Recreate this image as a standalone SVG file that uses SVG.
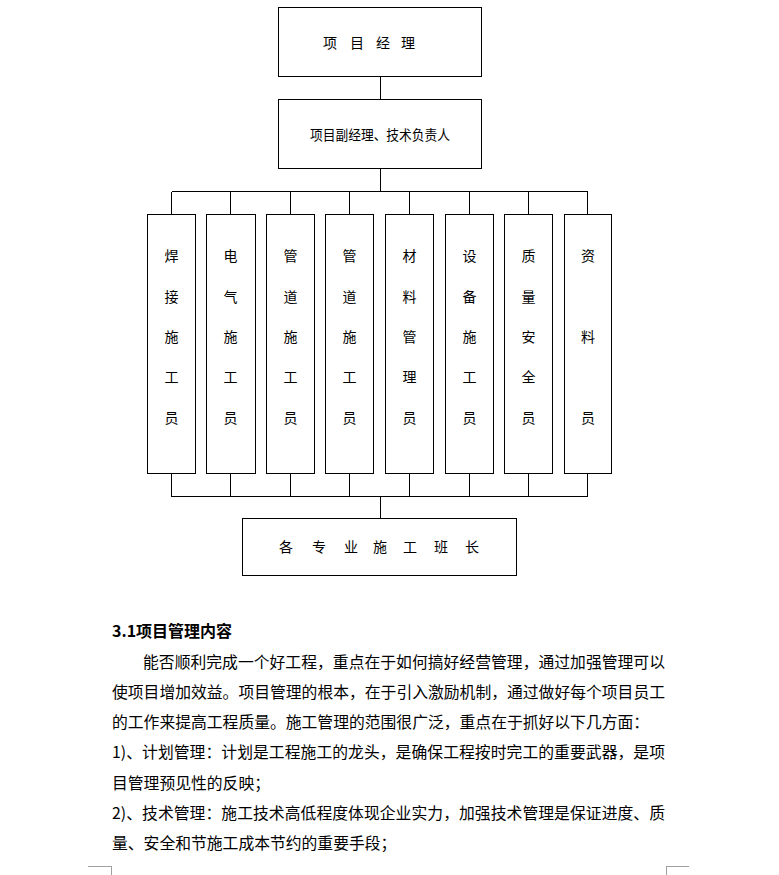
<svg xmlns="http://www.w3.org/2000/svg" width="779" height="875" viewBox="0 0 779 875">
<style>
.box{fill:#fff;stroke:#000;stroke-width:1;shape-rendering:crispEdges}
.ln{fill:none;stroke:#000;stroke-width:1;shape-rendering:crispEdges}
.cm{fill:none;stroke:#a0a0a0;stroke-width:1;shape-rendering:crispEdges}
.t{font-family:"Noto Sans CJK SC","Noto Sans",sans-serif;font-size:14px;fill:#000;text-anchor:middle}
.p{font-family:"Noto Sans CJK SC","Noto Sans",sans-serif;font-size:15.8px;fill:#000}
.h{font-family:"Noto Sans CJK SC","Noto Sans",sans-serif;font-size:16px;font-weight:bold;fill:#000}
</style>
<rect width="779" height="875" fill="#fff"/>
<g id="connectors">
<path class="ln" d="M380.5 76.5V99.5M380.5 168.5V191.5M171.5 191.5H587.5M171.5 191.5V214.5M230.5 191.5V214.5M290.5 191.5V214.5M349.5 191.5V214.5M409.5 191.5V214.5M469.5 191.5V214.5M528.5 191.5V214.5M587.5 191.5V214.5"/>
<path class="ln" d="M171.5 473.5V496.5M230.5 473.5V496.5M290.5 473.5V496.5M349.5 473.5V496.5M409.5 473.5V496.5M469.5 473.5V496.5M528.5 473.5V496.5M587.5 473.5V496.5M171.5 496.5H587.5M380.5 496.5V518.5"/>
</g>
<g id="n-pm">
<rect class="box" x="278.5" y="7.5" width="203" height="69"/>
<text class="t" y="48"><tspan x="330">项</tspan><tspan x="357">目</tspan><tspan x="383">经</tspan><tspan x="408">理</tspan></text>
</g>
<g id="n-deputy">
<rect class="box" x="278.5" y="99.5" width="203" height="69"/>
<text class="t" x="380" y="140" font-size="13" textLength="140" lengthAdjust="spacingAndGlyphs">项目副经理、技术负责人</text>
</g>
<g id="n-c1">
<rect class="box" x="147.5" y="214.5" width="48" height="259"/>
<text class="t"><tspan x="171.5" y="261">焊</tspan><tspan x="171.5" y="302">接</tspan><tspan x="171.5" y="342">施</tspan><tspan x="171.5" y="382">工</tspan><tspan x="171.5" y="423">员</tspan></text>
</g>
<g id="n-c2">
<rect class="box" x="206.5" y="214.5" width="49" height="259"/>
<text class="t"><tspan x="230.5" y="261">电</tspan><tspan x="230.5" y="302">气</tspan><tspan x="230.5" y="342">施</tspan><tspan x="230.5" y="382">工</tspan><tspan x="230.5" y="423">员</tspan></text>
</g>
<g id="n-c3">
<rect class="box" x="266.5" y="214.5" width="48" height="259"/>
<text class="t"><tspan x="290.5" y="261">管</tspan><tspan x="290.5" y="302">道</tspan><tspan x="290.5" y="342">施</tspan><tspan x="290.5" y="382">工</tspan><tspan x="290.5" y="423">员</tspan></text>
</g>
<g id="n-c4">
<rect class="box" x="325.5" y="214.5" width="48" height="259"/>
<text class="t"><tspan x="349.5" y="261">管</tspan><tspan x="349.5" y="302">道</tspan><tspan x="349.5" y="342">施</tspan><tspan x="349.5" y="382">工</tspan><tspan x="349.5" y="423">员</tspan></text>
</g>
<g id="n-c5">
<rect class="box" x="385.5" y="214.5" width="48" height="259"/>
<text class="t"><tspan x="409.5" y="261">材</tspan><tspan x="409.5" y="302">料</tspan><tspan x="409.5" y="342">管</tspan><tspan x="409.5" y="382">理</tspan><tspan x="409.5" y="423">员</tspan></text>
</g>
<g id="n-c6">
<rect class="box" x="445.5" y="214.5" width="48" height="259"/>
<text class="t"><tspan x="469.5" y="261">设</tspan><tspan x="469.5" y="302">备</tspan><tspan x="469.5" y="342">施</tspan><tspan x="469.5" y="382">工</tspan><tspan x="469.5" y="423">员</tspan></text>
</g>
<g id="n-c7">
<rect class="box" x="504.5" y="214.5" width="48" height="259"/>
<text class="t"><tspan x="528.5" y="261">质</tspan><tspan x="528.5" y="302">量</tspan><tspan x="528.5" y="342">安</tspan><tspan x="528.5" y="382">全</tspan><tspan x="528.5" y="423">员</tspan></text>
</g>
<g id="n-c8">
<rect class="box" x="564.5" y="214.5" width="47" height="259"/>
<text class="t"><tspan x="588" y="261">资</tspan><tspan x="588" y="342">料</tspan><tspan x="588" y="423">员</tspan></text>
</g>
<g id="n-leaders">
<rect class="box" x="242.5" y="518.5" width="274" height="57"/>
<text class="t" y="552"><tspan x="286">各</tspan><tspan x="319">专</tspan><tspan x="351">业</tspan><tspan x="380">施</tspan><tspan x="410">工</tspan><tspan x="441">班</tspan><tspan x="472">长</tspan></text>
</g>
<g id="body-text">
<text class="h" x="112" y="637">3.1项目管理内容</text>
<text class="p" x="143" y="668" textLength="522" lengthAdjust="spacing">能否顺利完成一个好工程，重点在于如何搞好经营管理，通过加强管理可以</text>
<text class="p" x="112" y="698" textLength="553" lengthAdjust="spacing">使项目增加效益。项目管理的根本，在于引入激励机制，通过做好每个项目员工</text>
<text class="p" x="112" y="728">的工作来提高工程质量。施工管理的范围很广泛，重点在于抓好以下几方面：</text>
<text class="p" x="112" y="758" textLength="553" lengthAdjust="spacing">1)、计划管理：计划是工程施工的龙头，是确保工程按时完工的重要武器，是项</text>
<text class="p" x="112" y="789">目管理预见性的反映；</text>
<text class="p" x="112" y="819" textLength="553" lengthAdjust="spacing">2)、技术管理：施工技术高低程度体现企业实力，加强技术管理是保证进度、质</text>
<text class="p" x="112" y="849">量、安全和节施工成本节约的重要手段；</text>
</g>
<path class="cm" d="M88 866.5H111.5V875M666.5 875V866.5H689"/>
</svg>
